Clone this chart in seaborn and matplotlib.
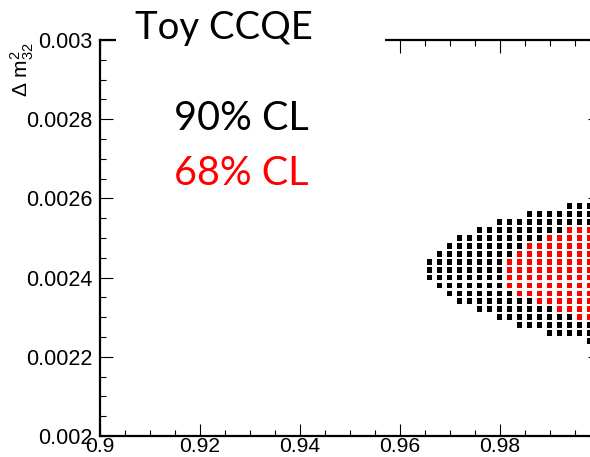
import numpy as np
import pandas as pd
import matplotlib
matplotlib.use("Agg")
import matplotlib.pyplot as plt
from matplotlib.patches import Rectangle
from matplotlib.ticker import MultipleLocator
import seaborn as sns

# Bin grid of the toy fit (sin^2 theta23 vs dm^2_32)
bin_dx = 0.002          # width of one sin^2 bin
x_last = 0.998          # last bin column drawn

# 90% CL region: one entry per dm2 row, first sin^2 bin inside the contour
dm2_90 = [0.00258, 0.00256, 0.00254, 0.00252, 0.00250, 0.00248, 0.00246,
          0.00244, 0.00242, 0.00240, 0.00238, 0.00236, 0.00234, 0.00232,
          0.00230, 0.00228, 0.00226, 0.00224]
first_90 = [0.994, 0.986, 0.980, 0.976, 0.972, 0.970, 0.968,
            0.966, 0.966, 0.966, 0.968, 0.970, 0.972, 0.976,
            0.980, 0.984, 0.990, 0.998]

# 68% CL region
dm2_68 = [0.00252, 0.00250, 0.00248, 0.00246, 0.00244, 0.00242,
          0.00240, 0.00238, 0.00236, 0.00234, 0.00232, 0.00230]
first_68 = [0.994, 0.990, 0.986, 0.984, 0.982, 0.982,
            0.982, 0.982, 0.984, 0.988, 0.992, 0.996]

x_ticks = [0.9, 0.92, 0.94, 0.96, 0.98]
x_tick_labels = ["0.9", "0.92", "0.94", "0.96", "0.98"]
y_ticks = [0.002, 0.0022, 0.0024, 0.0026, 0.0028, 0.003]
y_tick_labels = ["0.002", "0.0022", "0.0024", "0.0026", "0.0028", "0.003"]

title_text = "Toy CCQE"
label_90 = "90% CL"
label_68 = "68% CL"


def region_cells(rows, firsts, level):
    cells = []
    for y, x0 in zip(rows, firsts):
        n = int(round((x_last - x0) / bin_dx)) + 1
        for i in range(n):
            cells.append((round(x0 + i * bin_dx, 4), y, level))
    return cells


cells = region_cells(dm2_90, first_90, label_90) + region_cells(dm2_68, first_68, label_68)
df = pd.DataFrame(cells, columns=["sin2", "dm2", "level"])

sns.set_style("ticks")
plt.rcParams["font.family"] = ["Liberation Sans", "DejaVu Sans"]
plt.rcParams["mathtext.fontset"] = "custom"
plt.rcParams["mathtext.rm"] = "Liberation Sans"

W, H = 590, 457
fig = plt.figure(figsize=(W / 100, H / 100), dpi=100)
fig.patch.set_facecolor("white")

# frame: left edge at 99.5 px, right edge past the canvas, top 40 px, bottom 436 px
ax = fig.add_axes([99.5 / W, 1 - 436 / H, 500 / W, 396 / H])
ax.set_facecolor("white")

sns.scatterplot(data=df, x="sin2", y="dm2", hue="level",
                palette={label_90: "black", label_68: "#ff0000"},
                marker="s", s=17, linewidth=0, legend=False, ax=ax, zorder=3)

ax.set_xlim(0.9, 1.0)
ax.set_ylim(0.002, 0.003)
ax.set_xlabel("")
ax.set_ylabel("")

ax.set_xticks(x_ticks, x_tick_labels)
ax.set_yticks(y_ticks, y_tick_labels)
ax.xaxis.set_minor_locator(MultipleLocator(0.005))
ax.yaxis.set_minor_locator(MultipleLocator(0.00005))

for sp in ax.spines.values():
    sp.set_linewidth(1.6)
    sp.set_color("black")
    sp.set_visible(True)

ax.tick_params(which="both", direction="in", top=True, right=True,
               colors="black", width=0.8)
ax.tick_params(which="major", length=9)
ax.tick_params(which="minor", length=4.5)
ax.tick_params(axis="y", which="major", labelsize=15.5, pad=5)
ax.tick_params(axis="x", which="major", labelsize=15.2, pad=1)
# major tick at 1.0 on the upper frame
sec = ax.secondary_xaxis("top")
sec.set_xticks([1.0], [""])
sec.tick_params(direction="in", length=9, width=0.8)
sec.spines["top"].set_visible(False)

# y-axis title, right-aligned to the top of the axis
fig.text(22 / W, 1 - 42 / H, r"Δ m$\mathregular{^{2}_{32}}$", rotation=90,
         ha="center", va="top", fontsize=15, color="black")

# white title pave over the upper frame
fig.add_artist(Rectangle((116 / W, 1 - 57 / H), (385 - 116) / W, 57 / H,
                         transform=fig.transFigure, facecolor="white",
                         edgecolor="none", zorder=5))

big = dict(family=["Lato", "DejaVu Sans"], ha="left", va="baseline", zorder=6)
fig.text(135 / W, 1 - 39 / H, title_text, color="black", fontsize=27.5, **big)
fig.text(174 / W, 1 - 130 / H, label_90, color="black", fontsize=28.5, **big)
fig.text(174 / W, 1 - 185 / H, label_68, color="#ff0000", fontsize=28.5, **big)

fig.savefig("out.png", dpi=100, facecolor="white")
